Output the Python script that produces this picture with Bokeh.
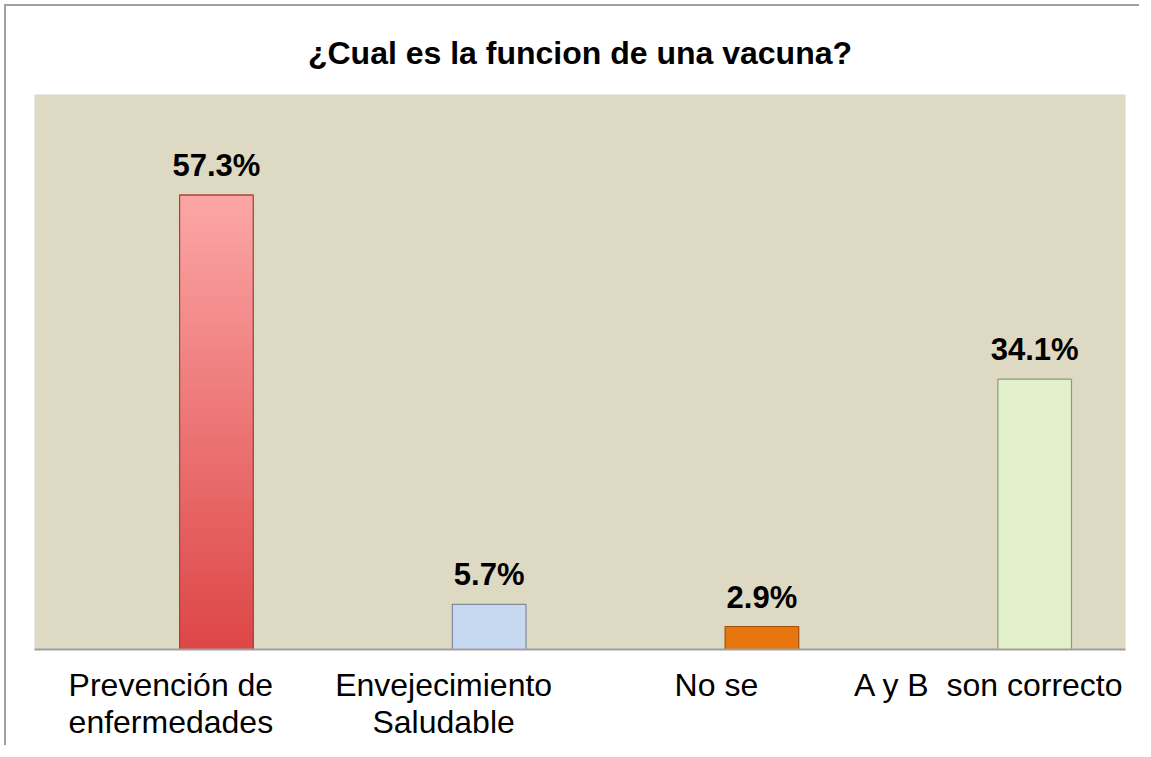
from bokeh.plotting import figure
from bokeh.models import ColumnDataSource, Range1d, Title
from bokeh.transform import dodge
from bokeh.embed import file_html
from bokeh.resources import INLINE
from bokeh.core.properties import value

# ---- data ----
categories = ["Prevención de\nenfermedades", "Envejecimiento\nSaludable", "No se", "A y B\u00a0 son correcto"]
percentages = [57.3, 5.7, 2.9, 34.1]
value_labels = ["57.3%", "5.7%", "2.9%", "34.1%"]
title_text = "¿Cual es la funcion de una vacuna?"

# ---- styles ----
bar_colors = ["#F07070", "#C6D9F1", "#E8760F", "#E1EFCB"]
bar_lines = ["#A84040", "#7F8C9E", "#A0520A", "#8C9A7C"]
FONT = "Liberation Sans"
BAR_OFFSET = 0.167
BAR_WIDTH = 0.27

p = figure(
    x_range=categories, y_range=Range1d(0, 70),
    width=1135, height=741,
    output_backend="svg", toolbar_location=None,
    min_border_left=28, min_border_right=16, min_border_top=88, min_border_bottom=98,
    background_fill_color="#DDD9C3", border_fill_color="white",
    outline_line_color=None,
)
p.styles = {"border-left": "2px solid #A0A0A0", "border-top": "2px solid #A0A0A0",
            "margin-left": "4px", "margin-top": "4px"}

p.title = Title(text=title_text, align="center", text_font=FONT, text_font_size="32px",
                text_font_style="bold", text_color="black", standoff=47)

# gradient for first bar (light pink top to red bottom), built from its value
def lerp(c1, c2, t):
    a = [int(c1[i:i + 2], 16) for i in (1, 3, 5)]
    b = [int(c2[i:i + 2], 16) for i in (1, 3, 5)]
    return "#%02x%02x%02x" % tuple(int(round(a[k] + (b[k] - a[k]) * t)) for k in range(3))

N = 90
seg_x, seg_bottom, seg_top, seg_color = [], [], [], []
v0 = percentages[0]
for i in range(N):
    seg_x.append(categories[0])
    seg_bottom.append(v0 * i / N)
    seg_top.append(v0 * (i + 1) / N)
    seg_color.append(lerp("#DD4646", "#FCA6A6", (i + 0.5) / N))

src = ColumnDataSource(dict(cat=categories, val=percentages, lab=value_labels,
                            fill=bar_colors, line=bar_lines))

# outlined bars
p.vbar(x=dodge("cat", BAR_OFFSET, range=p.x_range), top="val", bottom=0, width=BAR_WIDTH,
       source=src, fill_color="fill", line_color="line", line_width=1.2)

seg_src = ColumnDataSource(dict(cat=seg_x, b=seg_bottom, t=seg_top, c=seg_color))
p.vbar(x=dodge("cat", BAR_OFFSET, range=p.x_range), top="t", bottom="b", width=BAR_WIDTH,
       source=seg_src, fill_color="c", line_color="c", line_width=1)
# outline over gradient
p.vbar(x=dodge("cat", BAR_OFFSET, range=p.x_range), top=v0, bottom=0, width=BAR_WIDTH,
       source=ColumnDataSource(dict(cat=[categories[0]])), fill_color=None,
       line_color=bar_lines[0], line_width=1.2)

p.text(x=dodge("cat", BAR_OFFSET, range=p.x_range), y="val", text="lab", source=src,
       text_align="center", text_baseline="bottom", y_offset=-12,
       text_font=value(FONT), text_font_size="31px", text_font_style="bold", text_color="black")

p.xaxis.axis_line_color = "#A0A0A0"
p.xaxis.axis_line_width = 2
p.xaxis.major_tick_line_color = None
p.xaxis.minor_tick_line_color = None
p.xaxis.major_label_text_font = FONT
p.xaxis.major_label_text_font_size = "32px"
p.xaxis.major_label_text_color = "black"
p.xaxis.major_label_standoff = 11
p.xaxis.major_label_text_line_height = 1.05
p.yaxis.visible = False
p.xgrid.grid_line_color = None
p.ygrid.grid_line_color = None
p.x_range.range_padding = 0

open("out.html", "w").write(file_html(p, INLINE))
